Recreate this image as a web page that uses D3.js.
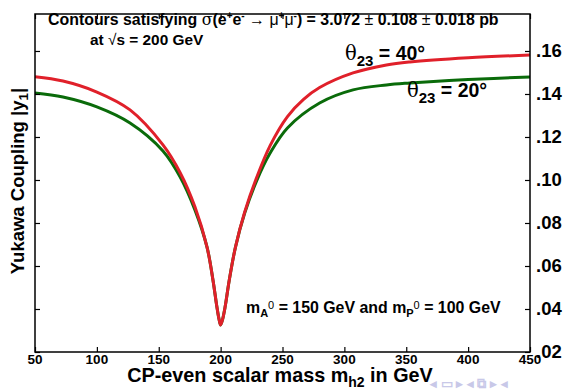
<!DOCTYPE html>
<html><head><meta charset="utf-8">
<script src="https://cdn.jsdelivr.net/npm/d3@7"></script>
<style>
body{margin:0;background:#fff;}
text{font-family:"Liberation Sans",Arial,Helvetica,sans-serif;font-weight:bold;fill:#000;}
</style></head>
<body><svg id="c" width="566" height="389"></svg>
<script>
const xTicks = [50,100,150,200,250,300,350,400,450];
const yTicks = [0.02,0.04,0.06,0.08,0.10,0.12,0.14,0.16];
const yTickLabels = [".02",".04",".06",".08",".10",".12",".14",".16"];
// theta23 = 40 deg (red)
const redX = [50,72.6,100,126.8,153.4,167.2,179.3,189,193.8,197,198.8,200,201.5,203.6,207,212,219.4,229,240,254,267,280,307,334,353,400,450];
const redY = [0.1480,0.1460,0.1409,0.1326,0.1163,0.1035,0.0874,0.0688,0.0535,0.0409,0.0350,0.0326,0.0350,0.0409,0.0535,0.0688,0.0850,0.1010,0.1160,0.1295,0.1375,0.1430,0.1498,0.1535,0.1549,0.1568,0.1581];
// theta23 = 20 deg (green)
const greenX = [50,72.6,100,126.8,153.4,167.2,179.3,189,193.8,197,198.8,200,201.5,203.6,207,212,219.4,229,240,254,280,307,334,353,400,450];
const greenY = [0.1405,0.1386,0.1340,0.1265,0.1135,0.1015,0.0860,0.0688,0.0535,0.0409,0.0350,0.0326,0.0350,0.0409,0.0535,0.0688,0.0845,0.0995,0.1125,0.1242,0.1358,0.1419,0.1442,0.1451,0.1467,0.1479];

const svg = d3.select("#c");
const L=35,R=530,T=14,B=352;
const x = d3.scaleLinear().domain([50,450]).range([L,R]);
const y = d3.scaleLinear().domain([0.02,0.1772]).range([B,T]);

// curves
const line = d3.line().x(d=>x(d[0])).y(d=>y(d[1])).curve(d3.curveCatmullRom.alpha(0.5));
svg.append("path").datum(greenX.map((v,i)=>[v,greenY[i]]))
  .attr("d",line).attr("fill","none").attr("stroke","#0a6b0a").attr("stroke-width",3);
svg.append("path").datum(redX.map((v,i)=>[v,redY[i]]))
  .attr("d",line).attr("fill","none").attr("stroke","#e0202a").attr("stroke-width",3);

// frame
svg.append("rect").attr("x",L).attr("y",T).attr("width",R-L).attr("height",B-T)
  .attr("fill","none").attr("stroke","#000").attr("stroke-width",1.5);

// axes (inward ticks)
const bx = d3.axisTop(x).tickValues(xTicks).tickSize(5).tickFormat("");
svg.append("g").attr("transform",`translate(0,${B})`).call(bx).call(g=>g.select(".domain").remove());
const tx = d3.axisBottom(x).tickValues(xTicks).tickSize(5).tickFormat("");
svg.append("g").attr("transform",`translate(0,${T})`).call(tx).call(g=>g.select(".domain").remove());
const ly = d3.axisRight(y).tickValues(yTicks).tickSize(5).tickFormat("");
svg.append("g").attr("transform",`translate(${L},0)`).call(ly).call(g=>g.select(".domain").remove());
const ry = d3.axisLeft(y).tickValues(yTicks).tickSize(5).tickFormat("");
svg.append("g").attr("transform",`translate(${R},0)`).call(ry).call(g=>g.select(".domain").remove());
svg.selectAll(".tick line").attr("stroke","#000").attr("stroke-width",1.2);

// x tick labels
svg.append("g").selectAll("text").data(xTicks).join("text")
  .attr("x",d=>x(d)).attr("y",364).attr("text-anchor","middle")
  .attr("font-size",13.5).text(d=>d);
// y tick labels (right)
svg.append("g").selectAll("text").data(yTicks).join("text")
  .attr("x",R+6).attr("y",d=>y(d)+6).attr("font-size",18.5)
  .text((d,i)=>yTickLabels[i]);

// title
const t1 = svg.append("text").attr("x",48).attr("y",25).attr("font-size",15.9);
t1.append("tspan").text("Contours satisfying ");
t1.append("tspan").attr("font-weight","normal").attr("font-family","DejaVu Serif").text("σ");
t1.append("tspan").text("(e");
t1.append("tspan").attr("font-size",10).attr("dy",-6).text("+");
t1.append("tspan").attr("dy",6).text("e");
t1.append("tspan").attr("font-size",10).attr("dy",-6).text("-");
t1.append("tspan").attr("dy",6).attr("font-weight","normal").text(" → μ");
t1.append("tspan").attr("font-size",10).attr("dy",-6).text("+");
t1.append("tspan").attr("dy",6).attr("font-weight","normal").text("μ");
t1.append("tspan").attr("font-size",10).attr("dy",-6).text("-");
t1.append("tspan").attr("dy",6).text(") = 3.072 ");
t1.append("tspan").attr("font-weight","normal").text("±");
t1.append("tspan").text(" 0.108 ");
t1.append("tspan").attr("font-weight","normal").text("±");
t1.append("tspan").text(" 0.018 pb");

const t2 = svg.append("text").attr("x",90).attr("y",45).attr("font-size",15.4);
t2.append("tspan").text("at ");
t2.append("tspan").attr("font-weight","normal").text("√");
t2.append("tspan").text("s = 200 GeV");

// curve labels
function thetaLabel(xp,yp,val){
  const t = svg.append("text").attr("x",xp).attr("y",yp).attr("font-size",19.5);
  t.append("tspan").attr("font-weight","normal").attr("font-family","DejaVu Serif").text("θ");
  t.append("tspan").attr("font-size",15).attr("dy",6).text("23");
  t.append("tspan").attr("dy",-6).text(" = "+val+"°");
}
thetaLabel(345,60,"40");
thetaLabel(407,97,"20");

// mass label
const t3 = svg.append("text").attr("x",246).attr("y",313).attr("font-size",15.9);
t3.append("tspan").text("m");
t3.append("tspan").attr("font-size",11).attr("dy",4).text("A");
t3.append("tspan").attr("font-size",11).attr("dy",-8).attr("font-weight","normal").text("0");
t3.append("tspan").attr("dy",4).text(" = 150 GeV and m");
t3.append("tspan").attr("font-size",11).attr("dy",4).text("P");
t3.append("tspan").attr("font-size",11).attr("dy",-8).attr("font-weight","normal").text("0");
t3.append("tspan").attr("dy",4).text(" = 100 GeV");

// axis titles
const xt = svg.append("text").attr("x",280).attr("y",381.5).attr("text-anchor","middle").attr("font-size",19.8);
xt.append("tspan").text("CP-even scalar mass m");
xt.append("tspan").attr("font-size",14).attr("dy",5).text("h2");
xt.append("tspan").attr("dy",-5).text(" in GeV");

const yt = svg.append("text").attr("transform","translate(24,181) rotate(-90)").attr("text-anchor","middle").attr("font-size",18.5);
yt.append("tspan").text("Yukawa Coupling |y");
yt.append("tspan").attr("font-size",13.5).attr("dy",4).text("1");
yt.append("tspan").attr("dy",-4).text("|");

// faint navigation symbols
svg.append("text").attr("x",430).attr("y",388).attr("font-size",13).attr("font-weight","normal")
  .style("fill","#c8c8e8").text("◂ ▭ ▸ ◂ ⧉ ▸ ◂");
</script></body></html>
